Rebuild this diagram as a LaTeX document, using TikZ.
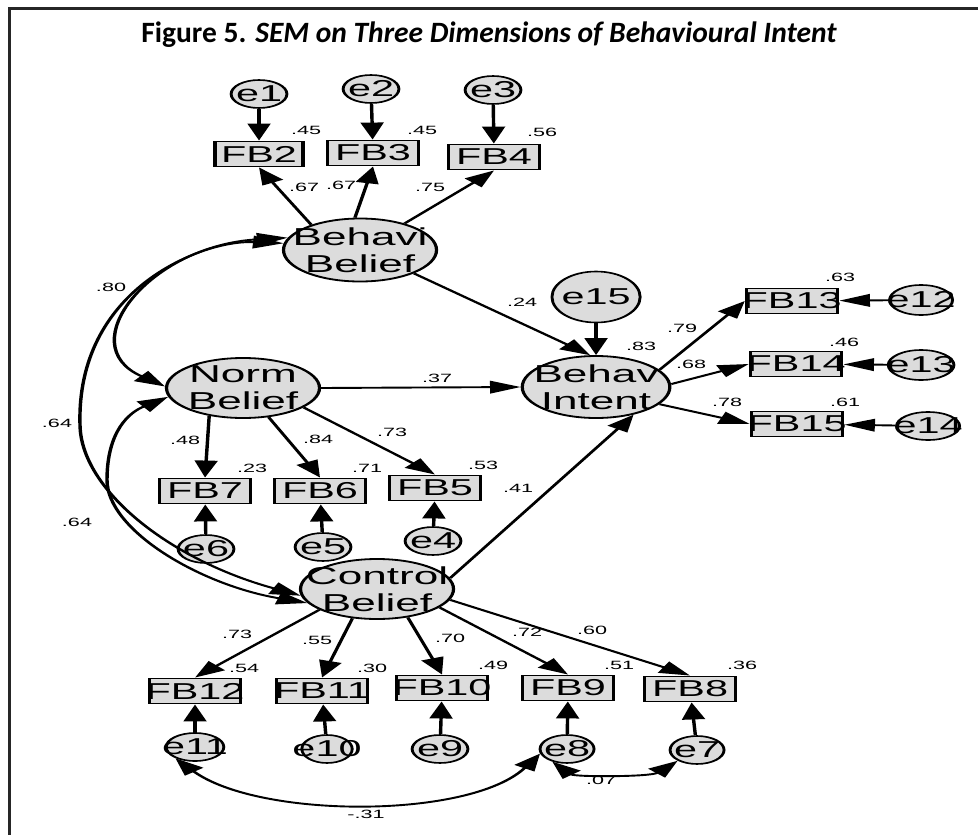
\documentclass[tikz,border=0pt]{standalone}
\usepackage{fontspec}
\setmainfont{Liberation Sans}
\newfontfamily\titlefont{Carlito}
\usetikzlibrary{arrows.meta,shapes.geometric}
\definecolor{nodegray}{RGB}{220,220,220}
\definecolor{framegray}{RGB}{38,38,38}
\tikzset{
  >={Triangle[length=17pt,width=12.5pt]},
  amos/.style={font=\fontsize{23}{26}\selectfont, inner sep=0pt},
  obs/.style={draw, fill=nodegray, line width=1.9pt, minimum width=50.6pt,
    minimum height=25pt, inner sep=0pt, label={[amos]center:#1}},
  err/.style={ellipse, draw, fill=nodegray, line width=1.6pt, minimum width=31pt,
    minimum height=28pt, inner sep=0pt, label={[amos]center:#1}},
  lat/.style={ellipse, draw, fill=nodegray, line width=1.8pt, minimum width=85pt,
    minimum height=60pt, inner sep=0pt,
    label={[amos,font=\fontsize{24.5}{27}\selectfont,align=center]center:{#1}}},
  coef/.style={font=\fontsize{12}{14}\selectfont, inner sep=0pt},
  reg/.style={->, line width=1.9pt},
  cov/.style={<->, line width=1.9pt},
}
\begin{document}
\begin{tikzpicture}[x=1pt,y=-1pt]
  \useasboundingbox (0,0) rectangle (978,835);
  \draw[framegray, line width=3pt] (9,835) -- (9,8) -- (978,8);
  \node[font=\titlefont\fontsize{29.5}{33}\selectfont, anchor=base] (title) at (489,42)
    {\bfseries Figure 5. \itshape SEM on Three Dimensions of Behavioural Intent};

  % the AMOS output is stretched sideways
  \begin{scope}[x=0.5556pt, transform canvas={xscale=1.8}]
  % latent variables
  \node[lat={Behavi\\Belief}, minimum height=63pt] (bb) at (360,250) {};
  \node[lat={Norm\\Belief}] (nb) at (243,388) {};
  \node[lat={Behav\\Intent}, minimum width=82pt, minimum height=62pt] (bi) at (596,387) {};
  \node[lat={Control\\Belief}] (cb) at (377,589) {};

  % observed items
  \node[obs=FB2, minimum width=49pt] (fb2) at (259,154) {};
  \node[obs=FB3] (fb3) at (373,153) {};
  \node[obs=FB4] (fb4) at (494,157) {};
  \node[obs=FB7] (fb7) at (205,491) {};
  \node[obs=FB6] (fb6) at (320,491) {};
  \node[obs=FB5] (fb5) at (435,488) {};
  \node[obs=FB13] (fb13) at (792,301) {};
  \node[obs=FB14] (fb14) at (796,364) {};
  \node[obs=FB15] (fb15) at (797,424) {};
  \node[obs=FB12] (fb12) at (195,691) {};
  \node[obs=FB11] (fb11) at (322,691) {};
  \node[obs=FB10] (fb10) at (442,688) {};
  \node[obs=FB9] (fb9) at (568,688) {};
  \node[obs=FB8] (fb8) at (690,689) {};

  % error terms
  \node[err=e1] (e1) at (259,94) {};
  \node[err=e2] (e2) at (371,89) {};
  \node[err=e3] (e3) at (493,90) {};
  \node[err=e6] (e6) at (206,549) {};
  \node[err=e5] (e5) at (323,547) {};
  \node[err=e4] (e4) at (433,541) {};
  \node[err=e15, minimum width=49pt, minimum height=51pt] (e15) at (596,297) {};
  \node[err=e12, minimum width=35pt, minimum height=30pt] (e12) at (921,300) {};
  \node[err=e13, minimum width=36.5pt, minimum height=30pt] (e13) at (921,365) {};
  \node[err=e14, minimum width=35pt] (e14) at (928,426) {};
  \node[err=e11, minimum width=32pt] (e11) at (195,747) {};
  \node[err=e10, minimum width=28pt] (e10) at (327,749) {};
  \node[err=e9] (e9) at (440,749) {};
  \node[err=e8, minimum width=30pt] (e8) at (567,749) {};
  \node[err=e7, minimum width=30pt] (e7) at (697,750) {};

  % loadings
  \draw[reg] (bb.137) -- (fb2.south);
  \draw[reg] (bb.95) -- (fb3.south);
  \draw[reg] (bb.47) -- (fb4.south);
  \draw[reg] (nb.-124) -- (fb7.north);
  \draw[reg] (nb.-64) -- (fb6.north);
  \draw[reg] (nb.-30) -- (fb5.north);
  \draw[reg] (bi.26) -- (fb13.west);
  \draw[reg] (bi.4) -- (fb14.west);
  \draw[reg] (bi.-26) -- (fb15.west);
  \draw[reg] (cb.-147) -- (fb12.north);
  \draw[reg] (cb.-115) -- (fb11.north);
  \draw[reg] (cb.-59) -- (fb10.north);
  \draw[reg] (cb.-28) -- (fb9.north);
  \draw[reg] (cb.-15) -- (fb8.north);

  % structural paths
  \draw[reg] (bb.-38) -- (bi.96);
  \draw[reg] (nb.east) -- (bi.west);
  \draw[reg] (cb.15) -- (bi.-53);
  \draw[reg] (e15) -- (bi);

  % errors
  \draw[reg] (e1) -- (fb2);
  \draw[reg] (e2) -- (fb3);
  \draw[reg] (e3) -- (fb4);
  \draw[reg] (e6) -- (fb7);
  \draw[reg] (e5) -- (fb6);
  \draw[reg] (e4) -- (fb5);
  \draw[reg] (e12) -- (fb13);
  \draw[reg] (e13) -- (fb14);
  \draw[reg] (e14) -- (fb15);
  \draw[reg] (e11) -- (fb12);
  \draw[reg] (e10) -- (fb11);
  \draw[reg] (e9) -- (fb10);
  \draw[reg] (e8) -- (fb9);
  \draw[reg] (e7) -- (fb8);

  % covariances
  \draw[cov] (bb.163) .. controls (150,245) and (70,345) .. (nb.178);
  \draw[cov] (bb.171) .. controls (200,240) and (76,290) .. (80,425)
    .. controls (81,490) and (170,560) .. (cb.189);
  \draw[cov] (nb.192) .. controls (130,412) and (107,430) .. (107,480)
    .. controls (107,530) and (200,585) .. (cb.200);
  \draw[cov] (e11.226) .. controls (260,819) and (470,819) .. (e8.197);
  \draw[cov] (e8.-123) .. controls (575,777) and (650,777) .. (e7.-135);

  % estimates
  \node[coef] (r2) at (306,130) {.45};
  \node[coef] (r3) at (422,130) {.45};
  \node[coef] (r4) at (542,132) {.56};
  \node[coef] (w2) at (304,187) {.67};
  \node[coef] (w3) at (341,185) {.67};
  \node[coef] (w4) at (430,187) {.75};
  \node[coef] (w7) at (185,440) {.48};
  \node[coef] (w6) at (318,439) {.84};
  \node[coef] (w5) at (392,432) {.73};
  \node[coef] (r7) at (252,468) {.23};
  \node[coef] (r6) at (367,468) {.71};
  \node[coef] (r5) at (483,465) {.53};
  \node[coef] (pbb) at (522,302) {.24};
  \node[coef] (pnb) at (437,378) {.37};
  \node[coef] (pcb) at (518,488) {.41};
  \node[coef] (rbi) at (641,346) {.83};
  \node[coef] (w13) at (682,328) {.79};
  \node[coef] (w14) at (691,364) {.68};
  \node[coef] (w15) at (727,402) {.78};
  \node[coef] (r13) at (840,277) {.63};
  \node[coef] (r14) at (844,342) {.46};
  \node[coef] (r15) at (845,402) {.61};
  \node[coef] (w12) at (237,634) {.73};
  \node[coef] (w11) at (317,640) {.55};
  \node[coef] (w10) at (450,638) {.70};
  \node[coef] (w9) at (527,632) {.72};
  \node[coef] (w8) at (592,630) {.60};
  \node[coef] (r12) at (244,668) {.54};
  \node[coef] (r11) at (372,668) {.30};
  \node[coef] (r10) at (493,665) {.49};
  \node[coef] (r9) at (619,665) {.51};
  \node[coef] (r8) at (742,665) {.36};
  \node[coef] (cbn) at (111,287) {.80};
  \node[coef] (cbc) at (57,423) {.64};
  \node[coef] (cnc) at (77,522) {.64};
  \node[coef] (c118) at (366,814) {-.31};
  \node[coef] (c87) at (601,780) {.07};
  \end{scope}
\end{tikzpicture}
\end{document}
